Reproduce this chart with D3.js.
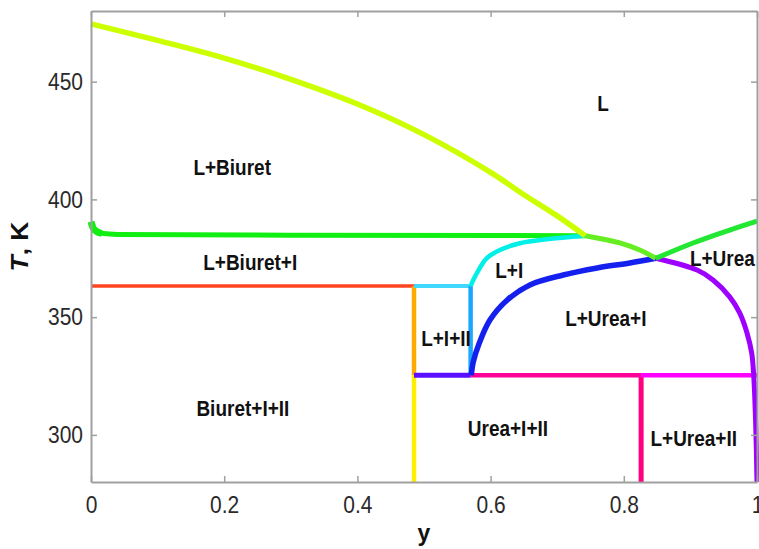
<!DOCTYPE html>
<html><head><meta charset="utf-8">
<script src="https://cdn.jsdelivr.net/npm/d3@7"></script>
<style>body{margin:0;background:#fff}svg{display:block}</style>
</head><body>
<script>
// ---- data (y = mole fraction, T in K) ----
const xTicks = [0, 0.2, 0.4, 0.6, 0.8, 1];
const xTickLabels = ["0", "0.2", "0.4", "0.6", "0.8", "1"];
const yTicks = [300, 350, 400, 450];
const yTickLabels = ["300", "350", "400", "450"];

const biuretLiquidusX = [0, 0.1, 0.2, 0.3, 0.4, 0.5, 0.6, 0.65, 0.7, 0.742];
const biuretLiquidusT = [474.5, 467.5, 460, 451, 440.5, 427.5, 411.5, 402, 393, 384.6];

const threePhaseTopX = [0, 0.003, 0.008, 0.016, 0.04, 0.3, 0.742];
const threePhaseTopT = [390.5, 388, 386.5, 385.6, 385.1, 384.8, 384.6];

const midLiquidusX = [0.742, 0.794, 0.824, 0.848];
const midLiquidusT = [384.6, 381.5, 378.5, 375];

const ureaLiquidusX = [0.848, 0.904, 0.959, 1.0];
const ureaLiquidusT = [375, 381.5, 387, 390.8];

const phaseIBoundX = [0.742, 0.684, 0.644, 0.614, 0.594, 0.582, 0.574, 0.570];
const phaseIBoundT = [384.6, 383.1, 381.4, 378.5, 375.0, 370.0, 365.8, 363.2];

const ureaIBoundX = [0.571, 0.574, 0.583, 0.599, 0.625, 0.659, 0.709, 0.760, 0.809, 0.848];
const ureaIBoundT = [325.3, 331, 339, 348.8, 357.3, 363.7, 367.9, 370.9, 373.0, 375];

const ureaSolidusX = [0.848, 0.910, 0.934, 0.959, 0.974, 0.985, 0.992, 0.995, 0.998, 1.0];
const ureaSolidusT = [375, 370.0, 365.8, 358.6, 351.8, 343.3, 334.8, 325.5, 305, 280];

const T_upper = 363.2;   // L+Biuret+I / solid line
const T_lower = 325.3;   // invariant line
const x_biuretEdge = 0.485;
const x_phaseI = 0.570;
const x_ureaII = 0.826;

const labels = [
  {text: "L", x: 0.769, T: 441},
  {text: "L+Biuret", x: 0.212, T: 413.8},
  {text: "L+Biuret+I", x: 0.239, T: 373.4},
  {text: "L+I", x: 0.628, T: 370},
  {text: "L+Urea", x: 0.948, T: 375.1},
  {text: "L+Urea+I", x: 0.773, T: 349.6},
  {text: "L+I+II", x: 0.533, T: 341.1},
  {text: "Biuret+I+II", x: 0.228, T: 311.4},
  {text: "Urea+I+II", x: 0.626, T: 302.9},
  {text: "L+Urea+II", x: 0.905, T: 298.7}
];

// ---- drawing ----
const W = 759, H = 549;
const margin = {left: 91, right: 2, top: 11, bottom: 67};
const FONT = "'Liberation Sans', Arial, sans-serif";
const svg = d3.select("body").append("svg").attr("width", W).attr("height", H);
const x = d3.scaleLinear().domain([0, 1]).range([margin.left, W - margin.right]);
const y = d3.scaleLinear().domain([280, 480]).range([H - margin.bottom, margin.top]);

const zip = (xs, ts) => xs.map((v, i) => [v, ts[i]]);
const line = d3.line().x(d => x(d[0])).y(d => y(d[1]));
const smooth = d3.line().x(d => x(d[0])).y(d => y(d[1])).curve(d3.curveCatmullRom.alpha(0.5));
const mono = d3.line().x(d => x(d[0])).y(d => y(d[1])).curve(d3.curveMonotoneX);

const g = svg.append("g");
function draw(pts, color, w, gen) {
  g.append("path").attr("d", (gen || line)(pts))
    .attr("fill", "none").attr("stroke", color).attr("stroke-width", w)
    .attr("stroke-linejoin", "round").attr("stroke-linecap", "butt");
}

// straight lines
draw([[0, T_upper], [x_biuretEdge, T_upper]], "#ff4420", 3.5);
draw([[x_biuretEdge, T_upper], [x_biuretEdge, T_lower]], "#ffaa00", 4.5);
draw([[x_biuretEdge, T_lower], [x_biuretEdge, 280]], "#ffee00", 4.5);
draw([[x_biuretEdge, T_upper], [x_phaseI, T_upper]], "#40d8ff", 4);
draw([[x_phaseI, T_upper], [x_phaseI, T_lower]], "#1aa8ff", 4.5);
draw([[x_ureaII, T_lower], [x_ureaII, 280]], "#ff0080", 5);
draw([[x_phaseI, T_lower], [x_ureaII, T_lower]], "#ff0099", 4.5);
draw([[x_ureaII, T_lower], [1, T_lower]], "#ff00ff", 4.5);
draw([[x_biuretEdge, T_lower], [x_phaseI, T_lower]], "#5a10ff", 5);

// curves
draw(zip(threePhaseTopX, threePhaseTopT), "#11ee11", 5, mono);
draw(zip(threePhaseTopX.slice(0, 4), threePhaseTopT.slice(0, 4)), "#11ee11", 7, mono);
draw(zip(phaseIBoundX, phaseIBoundT), "#00f0e8", 4.5, smooth);
draw(zip(ureaIBoundX, ureaIBoundT), "#1420ee", 5.5, smooth);
draw(zip(ureaSolidusX, ureaSolidusT), "#9d00ff", 5, smooth);
draw(zip(midLiquidusX, midLiquidusT), "#66ee22", 5, smooth);
draw(zip(ureaLiquidusX, ureaLiquidusT), "#22e833", 5, smooth);
draw(zip(biuretLiquidusX, biuretLiquidusT), "#ccff00", 5.5, smooth);

// frame and ticks
const axColor = "#a0a0a0";
function styleAxis(sel) {
  sel.selectAll("path.domain").attr("stroke", axColor).attr("stroke-width", 2);
  sel.selectAll(".tick line").attr("stroke", axColor).attr("stroke-width", 1.5);
  sel.selectAll(".tick text").attr("fill", "#2a2a2a")
    .style("font-family", FONT).style("font-size", "21px");
}
const bx = svg.append("g").attr("transform", `translate(0,${H - margin.bottom})`)
  .call(d3.axisBottom(x).tickValues(xTicks).tickFormat((d, i) => xTickLabels[i]).tickSize(-6).tickSizeOuter(0).tickPadding(12));
styleAxis(bx);
bx.selectAll(".tick text").attr("transform", "scale(1,1.15)");
const tx = svg.append("g").attr("transform", `translate(0,${margin.top})`)
  .call(d3.axisTop(x).tickValues(xTicks).tickFormat("").tickSize(-6).tickSizeOuter(0));
styleAxis(tx);
const ly = svg.append("g").attr("transform", `translate(${margin.left},0)`)
  .call(d3.axisLeft(y).tickValues(yTicks).tickFormat((d, i) => yTickLabels[i]).tickSize(-6).tickSizeOuter(0).tickPadding(8));
styleAxis(ly);
ly.selectAll(".tick text").attr("transform", "scale(1,1.15)");
const ry = svg.append("g").attr("transform", `translate(${W - margin.right},0)`)
  .call(d3.axisRight(y).tickValues(yTicks).tickFormat("").tickSize(-6).tickSizeOuter(0));
styleAxis(ry);

// region labels
svg.append("g").selectAll("text").data(labels).join("text")
  .attr("transform", d => `translate(${x(d.x)},${y(d.T)}) scale(1,1.15)`)
  .attr("dy", "0.36em")
  .attr("text-anchor", "middle").attr("fill", "#111")
  .style("font-family", FONT).style("font-size", "19px").style("font-weight", "bold")
  .text(d => d.text);

// axis titles
const yt = svg.append("text").attr("transform", `translate(28,${(margin.top + H - margin.bottom) / 2}) rotate(-90) scale(1.1,1)`)
  .attr("text-anchor", "middle").attr("fill", "#111")
  .style("font-family", FONT).style("font-size", "24px").style("font-weight", "bold");
yt.append("tspan").style("font-style", "italic").text("T");
yt.append("tspan").text(", K");
svg.append("text").attr("x", x(0.5)).attr("y", 541).attr("text-anchor", "middle").attr("fill", "#111")
  .style("font-family", FONT).style("font-size", "23px").style("font-weight", "bold")
  .text("y");
</script>
</body></html>
